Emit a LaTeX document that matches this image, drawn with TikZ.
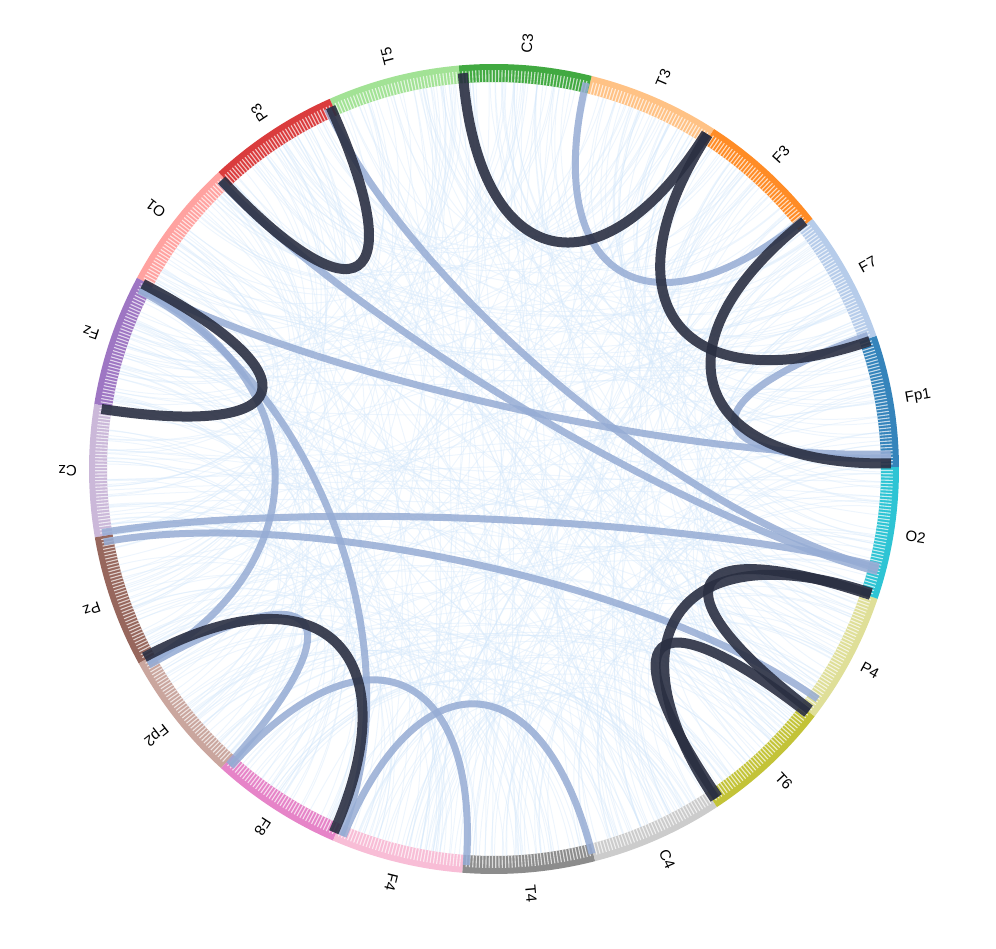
\documentclass[tikz,border=0pt]{standalone}
\usepackage{fontspec}
\setmainfont{Liberation Sans}
\definecolor{cFp1}{HTML}{1F77B4}
\definecolor{cF7}{HTML}{AEC7E8}
\definecolor{cF3}{HTML}{FF7F0E}
\definecolor{cT3}{HTML}{FFBB78}
\definecolor{cC3}{HTML}{2CA02C}
\definecolor{cT5}{HTML}{98DF8A}
\definecolor{cP3}{HTML}{D62728}
\definecolor{cO1}{HTML}{FF9896}
\definecolor{cFz}{HTML}{9467BD}
\definecolor{cCz}{HTML}{C5B0D5}
\definecolor{cPz}{HTML}{8C564B}
\definecolor{cFp2}{HTML}{C49C94}
\definecolor{cF8}{HTML}{E377C2}
\definecolor{cF4}{HTML}{F7B6D2}
\definecolor{cT4}{HTML}{7F7F7F}
\definecolor{cC4}{HTML}{C7C7C7}
\definecolor{cT6}{HTML}{BCBD22}
\definecolor{cP4}{HTML}{DBDB8D}
\definecolor{cO2}{HTML}{17BECF}
\definecolor{darkc}{RGB}{42,47,66}
\definecolor{lightc}{RGB}{150,172,212}
\definecolor{faintc}{RGB}{212,231,250}
\def\Rin{387}
\def\Rout{405}
\def\Rc{397}
\def\Rh{198.5}
\newcommand\chord[4]{%
  \coordinate (#1a) at (#3:\Rc);
  \coordinate (#1b) at (#4:\Rc);
  \draw[#2] (#1a) .. controls (#3:\Rh) and (#4:\Rh) .. (#1b);}
\begin{document}
\begin{tikzpicture}[x=1pt,y=1pt,
  darkchord/.style={line width=10pt, draw=darkc, draw opacity=0.9},
  lightchord/.style={line width=7pt, draw=lightc, draw opacity=0.85},
  faint/.style={line width=1pt, draw=faintc, draw opacity=0.4},
  tick/.style={draw=white, draw opacity=0.7, line width=1.1pt},
  lab/.style={font=\fontsize{15}{15}\selectfont, anchor=west, inner sep=0pt}]
\useasboundingbox (-494,-480) rectangle (502,469);
% faint background chords
\pgfmathsetseed{7}
\foreach \j in {1,...,440} {
  \pgfmathsetmacro\fa{rnd*360}
  \pgfmathsetmacro\fb{\fa+30+rnd*300}
  \draw[faint] (\fa:\Rin) .. controls (\fa:\Rh) and (\fb:\Rh) .. (\fb:\Rin);
}
% ring segments, ticks and labels
\foreach \nm [count=\i from 0] in {Fp1,F7,F3,T3,C3,T5,P3,O1,Fz,Cz,Pz,Fp2,F8,F4,T4,C4,T6,P4,O2} {
  \pgfmathsetmacro\aS{0.26+18.947*\i}
  \pgfmathsetmacro\aE{\aS+18.947}
  \pgfmathsetmacro\aM{\aS+9.4735}
  \fill[c\nm, fill opacity=0.9] (\aS:\Rout) arc[start angle=\aS, end angle=\aE, radius=\Rout]
     -- (\aE:\Rin) arc[start angle=\aE, end angle=\aS, radius=\Rin] -- cycle;
  \foreach \k in {1,...,39} {
    \draw[tick] ({\aS+\k*0.4737}:\Rin) -- ({\aS+\k*0.4737}:399);
  }
  \node[lab, rotate=\aM] (L\nm) at (\aM:417) {\nm};
}
% light chords
\chord{l1}{lightchord}{76.6}{38.9}
\chord{l2}{lightchord}{19.7}{1.6}
\chord{l3}{lightchord}{152.6}{2.2}
\chord{l4}{lightchord}{114.8}{345.5}
\chord{l5}{lightchord}{133.6}{345.0}
\chord{l6}{lightchord}{153.0}{209.2}
\chord{l7}{lightchord}{153.3}{247.3}
\chord{l8}{lightchord}{189.2}{345.8}
\chord{l9}{lightchord}{190.6}{324.6}
\chord{l10}{lightchord}{209.6}{228.1}
\chord{l11}{lightchord}{228.5}{266.0}
\chord{l12}{lightchord}{247.7}{284.3}
% dark chords
\chord{d1}{darkchord}{94.5}{57.7}
\chord{d2}{darkchord}{57.4}{18.8}
\chord{d3}{darkchord}{38.6}{0.8}
\chord{d4}{darkchord}{114.3}{133.3}
\chord{d5}{darkchord}{152.2}{171.3}
\chord{d6}{darkchord}{208.3}{246.2}
\chord{d7}{darkchord}{341.8}{303.8}
\chord{d8}{darkchord}{341.5}{322.7}
\chord{d9}{darkchord}{322.1}{304.3}
\end{tikzpicture}
\end{document}
